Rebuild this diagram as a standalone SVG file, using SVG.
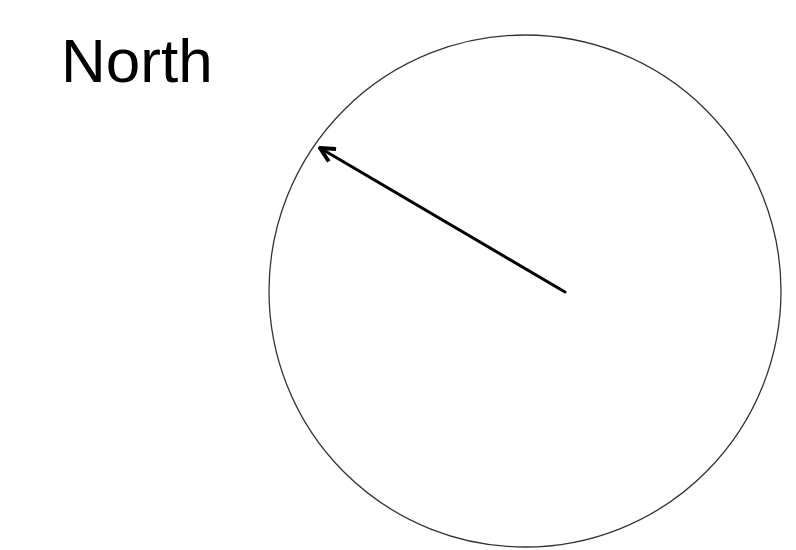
<svg xmlns="http://www.w3.org/2000/svg" width="796" height="550" viewBox="0 0 796 550">
<style>
.lbl{font-family:"Liberation Sans",Arial,sans-serif;font-size:62px;fill:#000}
.ring{fill:none;stroke:#333;stroke-width:1.3}
.conn{stroke:#000;stroke-width:3;fill:none;stroke-linecap:round}
</style>
<defs>
<marker id="ah" viewBox="0 0 10 10" refX="9" refY="5" markerWidth="6" markerHeight="6" orient="auto" markerUnits="strokeWidth">
<path d="M1,1 L9,5 L1,9" fill="none" stroke="#000" stroke-width="2.2" stroke-linejoin="miter"/>
</marker>
</defs>
<rect width="796" height="550" fill="#fff"/>
<g id="label"><text class="lbl" x="61" y="82">North</text></g>
<g id="circle"><circle class="ring" cx="525" cy="291" r="256"/></g>
<g id="connectors"><line class="conn" x1="565" y1="292" x2="320" y2="148" marker-end="url(#ah)"/></g>
</svg>
